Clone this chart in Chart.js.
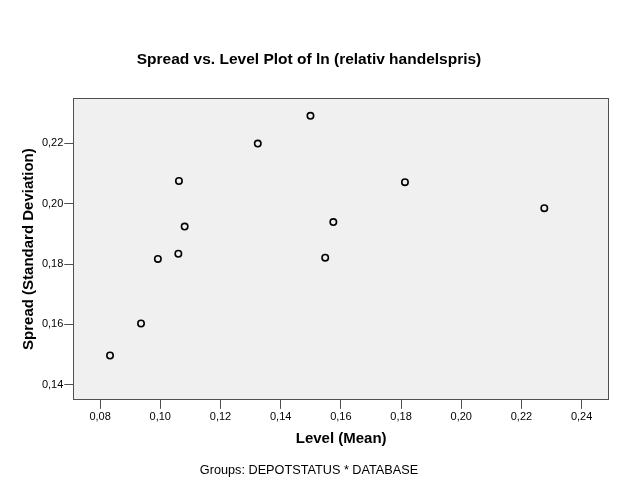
<!DOCTYPE html>
<html>
<head>
<meta charset="utf-8">
<script src="https://cdn.jsdelivr.net/npm/chart.js@4"></script>
<style>
  html, body { margin: 0; padding: 0; background: #ffffff; }
  #wrap { width: 624px; height: 499px; position: relative; }
</style>
</head>
<body>
<div id="wrap"><canvas id="c" width="624" height="499"></canvas></div>
<script>
// ---- Data ----
const levelMean = [0.0833, 0.0936, 0.0992, 0.1060, 0.1062, 0.1081, 0.1324, 0.1499, 0.1548, 0.1575, 0.1813, 0.2276];
const spreadSD  = [0.1497, 0.1603, 0.1817, 0.1834, 0.2075, 0.1924, 0.2199, 0.2291, 0.1821, 0.1939, 0.2071, 0.1985];
const xTicks = [0.08, 0.10, 0.12, 0.14, 0.16, 0.18, 0.20, 0.22, 0.24];
const yTicks = [0.14, 0.16, 0.18, 0.20, 0.22];
const chartTitle = 'Spread vs. Level Plot of ln (relativ handelspris)';
const xTitle = 'Level (Mean)';
const yTitle = 'Spread (Standard Deviation)';
const footNote = 'Groups: DEPOTSTATUS * DATABASE';

const FONT = '"Liberation Sans", Arial, sans-serif';
const fmt = v => v.toFixed(2).replace('.', ',');

const plotFrame = {
  id: 'plotFrame',
  beforeDatasetsDraw(chart) {
    const {ctx, chartArea: a} = chart;
    ctx.save();
    ctx.fillStyle = '#f0f0f0';
    ctx.fillRect(a.left, a.top, a.right - a.left, a.bottom - a.top);
    ctx.strokeStyle = '#505050';
    ctx.lineWidth = 1;
    ctx.strokeRect(Math.round(a.left) + 0.5, Math.round(a.top) + 0.5,
                   Math.round(a.right - a.left) - 1, Math.round(a.bottom - a.top) - 1);
    ctx.restore();
  }
};

new Chart(document.getElementById('c'), {
  type: 'scatter',
  data: {
    datasets: [{
      data: levelMean.map((x, i) => ({x: x, y: spreadSD[i]})),
      pointRadius: 3.2,
      pointBorderWidth: 1.6,
      pointBorderColor: '#000000',
      pointBackgroundColor: 'rgba(0,0,0,0)',
      pointHoverRadius: 3.2
    }]
  },
  options: {
    responsive: false,
    devicePixelRatio: 1,
    animation: false,
    layout: { padding: { left: 9, right: 15, top: 0, bottom: 0 } },
    plugins: {
      legend: { display: false },
      tooltip: { enabled: false },
      title: {
        display: true,
        text: chartTitle,
        color: '#000000',
        font: { family: FONT, size: 15.5, weight: 'bold', lineHeight: 1.2 },
        padding: { top: 50.3, bottom: 29.4 }
      },
      subtitle: {
        display: true,
        position: 'bottom',
        text: footNote,
        color: '#000000',
        font: { family: FONT, size: 12.7, weight: 'normal', lineHeight: 1.2 },
        padding: { top: 0, bottom: 21.3 }
      }
    },
    scales: {
      x: {
        type: 'linear',
        min: 0.0711,
        max: 0.2491,
        afterBuildTicks(scale) { scale.ticks = xTicks.map(v => ({ value: v })); },
        afterFit(scale) { scale.height = 62.6; },
        ticks: {
          color: '#000000',
          font: { family: FONT, size: 11 },
          padding: 2,
          maxRotation: 0,
          autoSkip: false,
          callback: v => fmt(v)
        },
        grid: { drawOnChartArea: false, drawTicks: true, tickLength: 9, color: '#505050' },
        border: { display: false },
        title: {
          display: true,
          text: xTitle,
          color: '#000000',
          font: { family: FONT, size: 15, weight: 'bold', lineHeight: 1.2 },
          padding: { top: 0, bottom: 14.8 }
        }
      },
      y: {
        type: 'linear',
        min: 0.135,
        max: 0.2349,
        afterBuildTicks(scale) { scale.ticks = yTicks.map(v => ({ value: v })); },
        afterFit(scale) { scale.width = 64.3; },
        ticks: {
          color: '#000000',
          font: { family: FONT, size: 11 },
          padding: 1,
          autoSkip: false,
          callback: v => fmt(v)
        },
        grid: { drawOnChartArea: false, drawTicks: true, tickLength: 9, color: '#505050' },
        border: { display: false },
        title: {
          display: true,
          text: yTitle,
          color: '#000000',
          font: { family: FONT, size: 15, weight: 'bold', lineHeight: 1.2 },
          padding: { top: 10.8, bottom: 0 }
        }
      }
    }
  },
  plugins: [plotFrame]
});
</script>
</body>
</html>
